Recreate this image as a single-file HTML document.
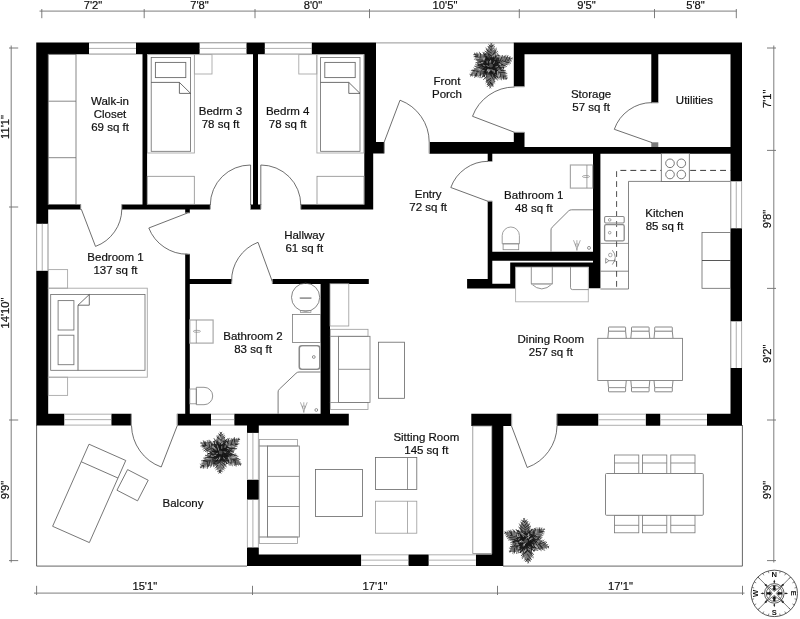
<!DOCTYPE html>
<html lang="en">
<head>
<meta charset="utf-8">
<title>Floor plan</title>
<style>
html,body{margin:0;padding:0;background:#fff;}
body{width:800px;height:619px;overflow:hidden;}
svg{display:block;will-change:transform;}
text{font-family:"Liberation Sans",sans-serif;fill:#111;stroke:#111;stroke-width:0.2px;}
</style>
</head>
<body>
<svg width="800" height="619" viewBox="0 0 800 619">
<rect width="800" height="619" fill="#fff"/>

<line x1="376.00" y1="42.90" x2="514.00" y2="42.90" stroke="#8a8a8a" stroke-width="0.9" />
<path d="M36.6,425 V566.1 H247" fill="none" stroke="#555" stroke-width="0.9" />
<path d="M503,566.1 H742.4 V425" fill="none" stroke="#555" stroke-width="0.9" />
<rect x="651.30" y="142.30" width="7.00" height="4.70" fill="#7a7a7a" />
<path d="M36.25,42.50H48.20V425.50H36.25ZM36.25,42.50H376.00V54.30H36.25ZM364.30,42.50H376.00V153.50H364.30ZM364.30,153.00H373.20V209.00H364.30ZM376.00,142.00H384.00V153.50H376.00ZM142.50,54.00H147.10V209.00H142.50ZM253.00,54.00H258.00V209.00H253.00ZM48.00,204.60H81.00V209.40H48.00ZM121.75,204.60H210.20V209.40H121.75ZM250.30,204.60H260.90V209.40H250.30ZM300.75,204.60H373.20V209.40H300.75ZM185.20,209.00H189.80V213.00H185.20ZM185.20,254.00H189.80V414.00H185.20ZM189.00,279.00H231.50V283.90H189.00ZM272.30,279.00H368.80V283.90H272.30ZM320.60,283.00H330.00V414.00H320.60ZM36.25,413.80H64.50V425.50H36.25ZM111.25,413.80H131.20V425.50H111.25ZM177.30,413.80H211.00V425.50H177.30ZM234.20,413.80H348.80V425.50H234.20ZM247.00,425.00H258.80V432.90H247.00ZM247.00,479.50H258.80V499.80H247.00ZM247.00,547.30H258.80V565.90H247.00ZM247.00,554.40H361.30V565.90H247.00ZM408.30,554.40H428.80V565.90H408.30ZM475.80,554.40H503.30V565.90H475.80ZM491.80,425.00H503.30V565.90H491.80ZM471.30,413.80H511.30V426.00H471.30ZM557.00,413.80H598.50V425.70H557.00ZM645.60,413.80H660.50V425.70H645.60ZM707.00,413.80H742.00V425.70H707.00ZM730.50,42.50H742.00V425.70H730.50ZM513.80,42.50H742.00V54.30H513.80ZM513.80,42.50H524.50V86.50H513.80ZM513.80,132.30H524.50V153.50H513.80ZM429.50,142.00H524.50V153.80H429.50ZM524.00,146.90H742.00V153.80H524.00ZM651.30,54.00H658.30V102.80H651.30ZM487.70,153.00H492.30V161.30H487.70ZM487.70,201.20H492.30V284.00H487.70ZM593.00,153.00H600.40V288.20H593.00ZM588.80,262.50H600.40V288.20H588.80ZM492.00,251.70H593.20V260.70H492.00ZM510.20,262.40H593.00V267.10H510.20ZM510.20,262.40H515.60V288.40H510.20ZM467.10,279.10H492.30V288.40H467.10ZM492.00,283.70H515.60V288.40H492.00Z" fill="#000"/>
<rect x="89.00" y="42.50" width="47.00" height="11.80" fill="#fff" />
<line x1="89.00" y1="42.90" x2="136.00" y2="42.90" stroke="#9a9a9a" stroke-width="0.8" />
<line x1="89.00" y1="48.40" x2="136.00" y2="48.40" stroke="#9a9a9a" stroke-width="0.8" />
<line x1="89.00" y1="53.90" x2="136.00" y2="53.90" stroke="#9a9a9a" stroke-width="0.8" />
<rect x="199.60" y="42.50" width="46.90" height="11.80" fill="#fff" />
<line x1="199.60" y1="42.90" x2="246.50" y2="42.90" stroke="#9a9a9a" stroke-width="0.8" />
<line x1="199.60" y1="48.40" x2="246.50" y2="48.40" stroke="#9a9a9a" stroke-width="0.8" />
<line x1="199.60" y1="53.90" x2="246.50" y2="53.90" stroke="#9a9a9a" stroke-width="0.8" />
<rect x="264.80" y="42.50" width="47.00" height="11.80" fill="#fff" />
<line x1="264.80" y1="42.90" x2="311.80" y2="42.90" stroke="#9a9a9a" stroke-width="0.8" />
<line x1="264.80" y1="48.40" x2="311.80" y2="48.40" stroke="#9a9a9a" stroke-width="0.8" />
<line x1="264.80" y1="53.90" x2="311.80" y2="53.90" stroke="#9a9a9a" stroke-width="0.8" />
<rect x="36.25" y="223.80" width="11.95" height="47.00" fill="#fff" />
<line x1="36.65" y1="223.80" x2="36.65" y2="270.80" stroke="#9a9a9a" stroke-width="0.8" />
<line x1="42.23" y1="223.80" x2="42.23" y2="270.80" stroke="#9a9a9a" stroke-width="0.8" />
<line x1="47.80" y1="223.80" x2="47.80" y2="270.80" stroke="#9a9a9a" stroke-width="0.8" />
<rect x="64.50" y="413.80" width="46.75" height="11.70" fill="#fff" />
<line x1="64.50" y1="414.20" x2="111.25" y2="414.20" stroke="#9a9a9a" stroke-width="0.8" />
<line x1="64.50" y1="419.65" x2="111.25" y2="419.65" stroke="#9a9a9a" stroke-width="0.8" />
<line x1="64.50" y1="425.10" x2="111.25" y2="425.10" stroke="#9a9a9a" stroke-width="0.8" />
<rect x="211.00" y="413.80" width="23.20" height="11.70" fill="#fff" />
<line x1="211.00" y1="414.20" x2="234.20" y2="414.20" stroke="#9a9a9a" stroke-width="0.8" />
<line x1="211.00" y1="419.65" x2="234.20" y2="419.65" stroke="#9a9a9a" stroke-width="0.8" />
<line x1="211.00" y1="425.10" x2="234.20" y2="425.10" stroke="#9a9a9a" stroke-width="0.8" />
<rect x="247.00" y="432.90" width="11.80" height="46.60" fill="#fff" />
<line x1="247.40" y1="432.90" x2="247.40" y2="479.50" stroke="#9a9a9a" stroke-width="0.8" />
<line x1="252.90" y1="432.90" x2="252.90" y2="479.50" stroke="#9a9a9a" stroke-width="0.8" />
<line x1="258.40" y1="432.90" x2="258.40" y2="479.50" stroke="#9a9a9a" stroke-width="0.8" />
<rect x="247.00" y="499.80" width="11.80" height="47.50" fill="#fff" />
<line x1="247.40" y1="499.80" x2="247.40" y2="547.30" stroke="#9a9a9a" stroke-width="0.8" />
<line x1="252.90" y1="499.80" x2="252.90" y2="547.30" stroke="#9a9a9a" stroke-width="0.8" />
<line x1="258.40" y1="499.80" x2="258.40" y2="547.30" stroke="#9a9a9a" stroke-width="0.8" />
<rect x="361.30" y="554.40" width="47.00" height="11.50" fill="#fff" />
<line x1="361.30" y1="554.80" x2="408.30" y2="554.80" stroke="#9a9a9a" stroke-width="0.8" />
<line x1="361.30" y1="560.15" x2="408.30" y2="560.15" stroke="#9a9a9a" stroke-width="0.8" />
<line x1="361.30" y1="565.50" x2="408.30" y2="565.50" stroke="#9a9a9a" stroke-width="0.8" />
<rect x="428.80" y="554.40" width="47.00" height="11.50" fill="#fff" />
<line x1="428.80" y1="554.80" x2="475.80" y2="554.80" stroke="#9a9a9a" stroke-width="0.8" />
<line x1="428.80" y1="560.15" x2="475.80" y2="560.15" stroke="#9a9a9a" stroke-width="0.8" />
<line x1="428.80" y1="565.50" x2="475.80" y2="565.50" stroke="#9a9a9a" stroke-width="0.8" />
<rect x="598.50" y="413.80" width="47.10" height="11.90" fill="#fff" />
<line x1="598.50" y1="414.20" x2="645.60" y2="414.20" stroke="#9a9a9a" stroke-width="0.8" />
<line x1="598.50" y1="419.75" x2="645.60" y2="419.75" stroke="#9a9a9a" stroke-width="0.8" />
<line x1="598.50" y1="425.30" x2="645.60" y2="425.30" stroke="#9a9a9a" stroke-width="0.8" />
<rect x="660.50" y="413.80" width="46.50" height="11.90" fill="#fff" />
<line x1="660.50" y1="414.20" x2="707.00" y2="414.20" stroke="#9a9a9a" stroke-width="0.8" />
<line x1="660.50" y1="419.75" x2="707.00" y2="419.75" stroke="#9a9a9a" stroke-width="0.8" />
<line x1="660.50" y1="425.30" x2="707.00" y2="425.30" stroke="#9a9a9a" stroke-width="0.8" />
<rect x="730.50" y="181.30" width="11.50" height="47.00" fill="#fff" />
<line x1="730.90" y1="181.30" x2="730.90" y2="228.30" stroke="#9a9a9a" stroke-width="0.8" />
<line x1="736.25" y1="181.30" x2="736.25" y2="228.30" stroke="#9a9a9a" stroke-width="0.8" />
<line x1="741.60" y1="181.30" x2="741.60" y2="228.30" stroke="#9a9a9a" stroke-width="0.8" />
<rect x="730.50" y="321.30" width="11.50" height="46.70" fill="#fff" />
<line x1="730.90" y1="321.30" x2="730.90" y2="368.00" stroke="#9a9a9a" stroke-width="0.8" />
<line x1="736.25" y1="321.30" x2="736.25" y2="368.00" stroke="#9a9a9a" stroke-width="0.8" />
<line x1="741.60" y1="321.30" x2="741.60" y2="368.00" stroke="#9a9a9a" stroke-width="0.8" />
<rect x="472.80" y="426.00" width="19.00" height="127.60" fill="#fff" stroke="#8a8a8a" stroke-width="0.8"/>
<rect x="80.20" y="204.30" width="1.00" height="4.90" fill="#9a9a9a" />
<rect x="121.20" y="204.30" width="1.00" height="4.90" fill="#9a9a9a" />
<rect x="209.80" y="204.30" width="1.00" height="4.90" fill="#9a9a9a" />
<rect x="250.00" y="204.30" width="1.00" height="4.90" fill="#9a9a9a" />
<rect x="260.40" y="204.30" width="1.00" height="4.90" fill="#9a9a9a" />
<rect x="300.30" y="204.30" width="1.00" height="4.90" fill="#9a9a9a" />
<rect x="185.20" y="212.40" width="4.60" height="1.00" fill="#9a9a9a" />
<rect x="185.20" y="253.60" width="4.60" height="1.00" fill="#9a9a9a" />
<rect x="231.20" y="279.20" width="1.00" height="4.50" fill="#9a9a9a" />
<rect x="271.80" y="279.20" width="1.00" height="4.50" fill="#9a9a9a" />
<rect x="130.80" y="413.80" width="1.20" height="11.70" fill="#9a9a9a" />
<rect x="176.60" y="413.80" width="1.20" height="11.70" fill="#9a9a9a" />
<rect x="383.80" y="142.00" width="1.20" height="11.50" fill="#9a9a9a" />
<rect x="428.60" y="142.00" width="1.20" height="11.50" fill="#9a9a9a" />
<rect x="513.80" y="86.20" width="10.70" height="1.00" fill="#9a9a9a" />
<rect x="513.80" y="131.80" width="10.70" height="1.00" fill="#9a9a9a" />
<rect x="651.30" y="102.30" width="7.00" height="1.00" fill="#9a9a9a" />
<rect x="487.70" y="161.00" width="4.60" height="1.00" fill="#9a9a9a" />
<rect x="487.70" y="200.60" width="4.60" height="1.00" fill="#9a9a9a" />
<rect x="511.00" y="413.80" width="1.20" height="12.20" fill="#9a9a9a" />
<rect x="556.20" y="413.80" width="1.20" height="11.90" fill="#9a9a9a" />
<path d="M81.30,209.20 L95.50,246.40 A40.16,40.16 0 0 0 121.80,209.20" fill="none" stroke="#4a4a4a" stroke-width="0.8" />
<path d="M187.50,213.00 L148.80,228.00 A41.35,41.35 0 0 0 187.50,254.20" fill="none" stroke="#4a4a4a" stroke-width="0.8" />
<path d="M250.60,205.00 L250.60,165.00 A40.15,40.15 0 0 0 210.30,205.00" fill="none" stroke="#4a4a4a" stroke-width="0.8" />
<path d="M260.80,205.00 L260.80,165.00 A40.00,40.00 0 0 1 300.80,205.00" fill="none" stroke="#4a4a4a" stroke-width="0.8" />
<path d="M272.30,281.50 L258.00,242.30 A41.21,41.21 0 0 0 231.60,281.50" fill="none" stroke="#4a4a4a" stroke-width="0.8" />
<path d="M177.30,425.50 L161.20,467.00 A45.16,45.16 0 0 1 131.50,425.50" fill="none" stroke="#4a4a4a" stroke-width="0.8" />
<path d="M384.20,142.00 L400.00,100.20 A44.84,44.84 0 0 1 429.20,142.00" fill="none" stroke="#4a4a4a" stroke-width="0.8" />
<path d="M514.50,132.30 L472.50,116.30 A45.12,45.12 0 0 1 514.50,87.00" fill="none" stroke="#4a4a4a" stroke-width="0.8" />
<path d="M652.00,142.60 L614.30,129.30 A39.99,39.99 0 0 1 652.00,102.60" fill="none" stroke="#4a4a4a" stroke-width="0.8" />
<path d="M488.00,201.30 L450.80,187.50 A39.84,39.84 0 0 1 488.00,161.30" fill="none" stroke="#4a4a4a" stroke-width="0.8" />
<path d="M511.50,426.00 L527.20,467.50 A44.94,44.94 0 0 0 557.00,426.00" fill="none" stroke="#4a4a4a" stroke-width="0.8" />
<rect x="48.20" y="54.30" width="27.80" height="150.30" fill="none" stroke="#6a6a6a" stroke-width="0.8"/>
<line x1="48.20" y1="101.20" x2="76.00" y2="101.20" stroke="#6a6a6a" stroke-width="0.8" />
<line x1="48.20" y1="157.70" x2="76.00" y2="157.70" stroke="#6a6a6a" stroke-width="0.8" />
<rect x="147.50" y="54.60" width="46.90" height="98.40" fill="none" stroke="#a8a8a8" stroke-width="0.9"/>
<rect x="151.20" y="57.50" width="39.40" height="93.80" fill="none" stroke="#6a6a6a" stroke-width="0.8"/>
<rect x="155.40" y="62.40" width="30.40" height="15.20" fill="none" stroke="#6a6a6a" stroke-width="0.9"/>
<path d="M151.20,82.4 H179.40 V93.4 H190.60 M179.40,82.4 L190.60,93.4" fill="none" stroke="#4a4a4a" stroke-width="0.8" />
<rect x="316.90" y="54.60" width="46.90" height="98.40" fill="none" stroke="#a8a8a8" stroke-width="0.9"/>
<rect x="320.60" y="57.50" width="39.40" height="93.80" fill="none" stroke="#6a6a6a" stroke-width="0.8"/>
<rect x="324.80" y="62.40" width="30.40" height="15.20" fill="none" stroke="#6a6a6a" stroke-width="0.9"/>
<path d="M320.60,82.4 H348.80 V93.4 H360.00 M348.80,82.4 L360.00,93.4" fill="none" stroke="#4a4a4a" stroke-width="0.8" />
<rect x="194.40" y="54.60" width="17.60" height="19.40" fill="none" stroke="#a8a8a8" stroke-width="0.9"/>
<rect x="298.80" y="54.60" width="18.00" height="19.40" fill="none" stroke="#a8a8a8" stroke-width="0.9"/>
<rect x="147.20" y="176.30" width="47.10" height="28.00" fill="none" stroke="#8a8a8a" stroke-width="0.8"/>
<rect x="317.00" y="176.30" width="47.00" height="28.00" fill="none" stroke="#8a8a8a" stroke-width="0.8"/>
<rect x="48.30" y="269.60" width="19.30" height="18.60" fill="none" stroke="#a8a8a8" stroke-width="0.9"/>
<rect x="48.30" y="377.20" width="19.30" height="18.20" fill="none" stroke="#a8a8a8" stroke-width="0.9"/>
<rect x="48.30" y="288.20" width="99.00" height="89.00" fill="none" stroke="#a8a8a8" stroke-width="0.9"/>
<rect x="50.70" y="294.50" width="94.30" height="75.80" fill="none" stroke="#6a6a6a" stroke-width="0.8"/>
<rect x="58.10" y="300.60" width="15.80" height="29.40" fill="none" stroke="#777" stroke-width="0.9"/>
<rect x="58.10" y="335.20" width="15.80" height="29.50" fill="none" stroke="#777" stroke-width="0.9"/>
<path d="M78,370.3 V305.2 H89.3 V294.5 M78,305.2 L89.3,294.5" fill="none" stroke="#4a4a4a" stroke-width="0.8" />
<rect x="189.80" y="320.00" width="23.30" height="23.10" fill="none" stroke="#a8a8a8" stroke-width="1.2"/>
<line x1="196.30" y1="320.00" x2="196.30" y2="343.10" stroke="#8a8a8a" stroke-width="0.8" />
<ellipse cx="196.9" cy="331.3" rx="3.6" ry="1" fill="none" stroke="#888" stroke-width="0.7"/>
<rect x="189.80" y="389.00" width="6.50" height="14.80" fill="none" stroke="#8a8a8a" stroke-width="0.8"/>
<path d="M196.3,387.3 H204 A8.7,8.7 0 0 1 204,404.7 H196.3 Z" fill="none" stroke="#777" stroke-width="0.8" />
<circle cx="305.60" cy="297.30" r="14.10" fill="none" stroke="#666" stroke-width="0.8"/>
<line x1="300.30" y1="298.10" x2="310.90" y2="298.10" stroke="#999" stroke-width="1.6" stroke-linecap="round"/>
<rect x="300.40" y="310.50" width="10.50" height="2.10" fill="none" stroke="#888" stroke-width="0.7"/>
<rect x="292.50" y="314.40" width="28.10" height="28.10" fill="none" stroke="#7a7a7a" stroke-width="0.8"/>
<rect x="299.30" y="345.70" width="20.50" height="23.60" fill="none" stroke="#8a8a8a" stroke-width="1.6" rx="2.5"/>
<rect x="300.60" y="347.00" width="17.90" height="21.00" fill="none" stroke="#fff" stroke-width="0.5" rx="2"/>
<circle cx="313.80" cy="357.00" r="1.40" fill="none" stroke="#666" stroke-width="0.7"/>
<path d="M278.1,413.8 V392 Q278.1,390.3 279.3,389.2 L296,373.3 Q297.4,372 299,372 H320.6" fill="none" stroke="#6a6a6a" stroke-width="0.9" />
<path d="M300.40000000000003,402.3 L302.90000000000003,408.7 M307.2,402.3 L304.7,408.7 M303.8,402.3 V405.5 M302.5,406.0 L303.8,412.5 L305.1,406.0 Z" fill="none" stroke="#777" stroke-width="0.6" />
<circle cx="316.30" cy="410.00" r="1.40" fill="none" stroke="#666" stroke-width="0.7"/>
<rect x="570.40" y="165.00" width="22.20" height="23.10" fill="none" stroke="#a8a8a8" stroke-width="1.2"/>
<line x1="586.90" y1="165.00" x2="586.90" y2="188.10" stroke="#8a8a8a" stroke-width="0.8" />
<ellipse cx="586" cy="176.5" rx="3.6" ry="1" fill="none" stroke="#888" stroke-width="0.7"/>
<path d="M551,251.7 V230 Q551,228.3 552.2,227.2 L568.5,211 Q569.8,209.8 571.5,209.8 H593" fill="none" stroke="#707070" stroke-width="0.9" />
<path d="M573.5,240.20000000000002 L576.0,246.6 M580.3,240.20000000000002 L577.8,246.6 M576.9,240.20000000000002 V243.4 M575.6,243.9 L576.9,250.4 L578.1999999999999,243.9 Z" fill="none" stroke="#777" stroke-width="0.6" />
<circle cx="589.00" cy="247.90" r="1.50" fill="none" stroke="#666" stroke-width="0.7"/>
<path d="M502.2,243.8 V235.6 A8.6,8.6 0 0 1 519.4,235.6 V243.8 Z" fill="none" stroke="#888" stroke-width="0.8" />
<rect x="503.10" y="243.80" width="15.60" height="5.90" fill="none" stroke="#888" stroke-width="0.8"/>
<rect x="515.60" y="267.10" width="72.70" height="34.70" fill="none" stroke="#b0b0b0" stroke-width="0.9"/>
<path d="M531.3,267.1 V283.8 H552.3 V267.1 M531.3,283.8 Q541.8,294 552.3,283.8" fill="none" stroke="#777" stroke-width="0.8" />
<line x1="531.30" y1="284.40" x2="552.30" y2="284.40" stroke="#bbb" stroke-width="1" />
<path d="M570.5,267.1 V287.6 Q570.5,289.6 572.5,289.6 H588.5" fill="none" stroke="#777" stroke-width="0.8" />
<path d="M600.4,289 H628.5 V181.4 H730.5" fill="none" stroke="#666" stroke-width="0.8" />
<line x1="600.40" y1="243.40" x2="628.50" y2="243.40" stroke="#777" stroke-width="0.8" />
<line x1="600.40" y1="271.20" x2="628.50" y2="271.20" stroke="#666" stroke-width="0.8" />
<path d="M616.6,171.2 V289" fill="none" stroke="#3a3a3a" stroke-width="0.9" stroke-dasharray="5.8 4.18"/>
<path d="M620.4,170.4 H730.5" fill="none" stroke="#3a3a3a" stroke-width="1" stroke-dasharray="5.9 4.07"/>
<rect x="661.30" y="153.50" width="28.00" height="27.90" fill="#fff" stroke="#666" stroke-width="0.8"/>
<circle cx="670.00" cy="163.30" r="4.30" fill="none" stroke="#555" stroke-width="0.8"/>
<circle cx="670.00" cy="174.50" r="4.30" fill="none" stroke="#555" stroke-width="0.8"/>
<circle cx="681.30" cy="163.30" r="4.30" fill="none" stroke="#555" stroke-width="0.8"/>
<circle cx="681.30" cy="174.50" r="4.30" fill="none" stroke="#555" stroke-width="0.8"/>
<rect x="604.60" y="216.50" width="19.60" height="6.50" fill="none" stroke="#8a8a8a" stroke-width="1.1" rx="1.2"/>
<rect x="604.60" y="224.70" width="19.60" height="16.20" fill="none" stroke="#8a8a8a" stroke-width="1.3" rx="1.5"/>
<circle cx="609.70" cy="219.90" r="1.30" fill="none" stroke="#666" stroke-width="0.6"/>
<circle cx="609.70" cy="232.70" r="1.30" fill="none" stroke="#666" stroke-width="0.6"/>
<path d="M605.7,258.3 V263.2 L608.9,260.7 Z M608.9,260.7 H615 M615,259.4 V262 M612.3,250.2 Q618.2,257.3 612.3,264.6" fill="none" stroke="#666" stroke-width="0.7" />
<circle cx="610.30" cy="255.00" r="1.80" fill="none" stroke="#777" stroke-width="0.6"/>
<rect x="702.00" y="232.50" width="28.50" height="55.80" fill="none" stroke="#666" stroke-width="0.8"/>
<line x1="702.00" y1="260.50" x2="730.50" y2="260.50" stroke="#444" stroke-width="0.9" />
<rect x="330.00" y="283.70" width="18.80" height="42.30" fill="none" stroke="#999" stroke-width="0.8"/>
<rect x="330.30" y="329.30" width="37.70" height="7.00" fill="none" stroke="#999" stroke-width="0.8"/>
<rect x="330.30" y="402.50" width="37.70" height="7.00" fill="none" stroke="#999" stroke-width="0.8"/>
<rect x="330.30" y="336.30" width="8.30" height="66.20" fill="none" stroke="#999" stroke-width="0.8"/>
<rect x="338.60" y="336.30" width="31.40" height="66.20" fill="none" stroke="#777" stroke-width="0.8"/>
<line x1="338.60" y1="369.30" x2="370.00" y2="369.30" stroke="#777" stroke-width="0.8" />
<rect x="378.50" y="342.20" width="26.00" height="56.10" fill="none" stroke="#666" stroke-width="0.8"/>
<path d="M607.80,338.30 L608.50,331.20 V327.60 Q608.50,327.00 609.10,327.00 H625.00 Q625.60,327.00 625.60,327.60 V331.20 L626.30,338.30" fill="none" stroke="#6a6a6a" stroke-width="0.8" />
<line x1="608.50" y1="331.20" x2="625.60" y2="331.20" stroke="#888" stroke-width="1.1" />
<path d="M607.80,380.50 L608.50,387.60 V391.20 Q608.50,391.80 609.10,391.80 H625.00 Q625.60,391.80 625.60,391.20 V387.60 L626.30,380.50" fill="none" stroke="#6a6a6a" stroke-width="0.8" />
<line x1="608.50" y1="387.60" x2="625.60" y2="387.60" stroke="#999" stroke-width="1.1" />
<path d="M630.80,338.30 L631.50,331.20 V327.60 Q631.50,327.00 632.10,327.00 H648.50 Q649.10,327.00 649.10,327.60 V331.20 L649.80,338.30" fill="none" stroke="#6a6a6a" stroke-width="0.8" />
<line x1="631.50" y1="331.20" x2="649.10" y2="331.20" stroke="#888" stroke-width="1.1" />
<path d="M630.80,380.50 L631.50,387.60 V391.20 Q631.50,391.80 632.10,391.80 H648.50 Q649.10,391.80 649.10,391.20 V387.60 L649.80,380.50" fill="none" stroke="#6a6a6a" stroke-width="0.8" />
<line x1="631.50" y1="387.60" x2="649.10" y2="387.60" stroke="#999" stroke-width="1.1" />
<path d="M654.00,338.30 L654.70,331.20 V327.60 Q654.70,327.00 655.30,327.00 H671.70 Q672.30,327.00 672.30,327.60 V331.20 L673.00,338.30" fill="none" stroke="#6a6a6a" stroke-width="0.8" />
<line x1="654.70" y1="331.20" x2="672.30" y2="331.20" stroke="#888" stroke-width="1.1" />
<path d="M654.00,380.50 L654.70,387.60 V391.20 Q654.70,391.80 655.30,391.80 H671.70 Q672.30,391.80 672.30,391.20 V387.60 L673.00,380.50" fill="none" stroke="#6a6a6a" stroke-width="0.8" />
<line x1="654.70" y1="387.60" x2="672.30" y2="387.60" stroke="#999" stroke-width="1.1" />
<rect x="597.80" y="338.30" width="84.70" height="42.20" fill="#fff" stroke="#707070" stroke-width="0.8"/>
<rect x="614.50" y="455.00" width="24.30" height="18.50" fill="none" stroke="#777" stroke-width="0.8"/>
<rect x="614.50" y="515.30" width="24.30" height="17.50" fill="none" stroke="#777" stroke-width="0.8"/>
<line x1="614.50" y1="525.30" x2="638.80" y2="525.30" stroke="#777" stroke-width="0.8" />
<line x1="614.50" y1="463.00" x2="638.80" y2="463.00" stroke="#777" stroke-width="0.8" />
<rect x="642.50" y="455.00" width="24.30" height="18.50" fill="none" stroke="#777" stroke-width="0.8"/>
<rect x="642.50" y="515.30" width="24.30" height="17.50" fill="none" stroke="#777" stroke-width="0.8"/>
<line x1="642.50" y1="525.30" x2="666.80" y2="525.30" stroke="#777" stroke-width="0.8" />
<line x1="642.50" y1="463.00" x2="666.80" y2="463.00" stroke="#777" stroke-width="0.8" />
<rect x="670.80" y="455.00" width="24.20" height="18.50" fill="none" stroke="#777" stroke-width="0.8"/>
<rect x="670.80" y="515.30" width="24.20" height="17.50" fill="none" stroke="#777" stroke-width="0.8"/>
<line x1="670.80" y1="525.30" x2="695.00" y2="525.30" stroke="#777" stroke-width="0.8" />
<line x1="670.80" y1="463.00" x2="695.00" y2="463.00" stroke="#777" stroke-width="0.8" />
<rect x="605.50" y="473.50" width="97.80" height="41.80" fill="#fff" stroke="#777" stroke-width="0.9" rx="1"/>
<rect x="259.30" y="439.50" width="38.20" height="6.50" fill="none" stroke="#999" stroke-width="0.8"/>
<rect x="259.30" y="537.00" width="38.20" height="6.50" fill="none" stroke="#999" stroke-width="0.8"/>
<rect x="259.30" y="446.00" width="8.20" height="91.00" fill="none" stroke="#999" stroke-width="0.8"/>
<rect x="267.50" y="446.00" width="31.80" height="91.00" fill="none" stroke="#777" stroke-width="0.8"/>
<line x1="267.50" y1="476.40" x2="299.30" y2="476.40" stroke="#777" stroke-width="0.8" />
<line x1="267.50" y1="506.50" x2="299.30" y2="506.50" stroke="#777" stroke-width="0.8" />
<rect x="315.50" y="469.50" width="47.00" height="47.00" fill="none" stroke="#666" stroke-width="0.8"/>
<rect x="375.50" y="457.50" width="41.30" height="32.00" fill="none" stroke="#666" stroke-width="0.8"/>
<line x1="407.50" y1="457.50" x2="407.50" y2="489.50" stroke="#777" stroke-width="0.8" />
<rect x="375.50" y="501.20" width="41.30" height="32.00" fill="none" stroke="#999" stroke-width="0.8"/>
<line x1="407.50" y1="501.20" x2="407.50" y2="533.20" stroke="#999" stroke-width="0.8" />
<g transform="translate(89,444.2) rotate(23.9)">
<rect x="0.00" y="0.00" width="40.20" height="89.80" fill="none" stroke="#666" stroke-width="0.8"/>
<line x1="0.00" y1="19.20" x2="40.20" y2="19.20" stroke="#666" stroke-width="0.8" />
</g>
<g transform="translate(127.6,469.6) rotate(27.3)">
<rect x="0.00" y="0.00" width="23.20" height="23.20" fill="none" stroke="#666" stroke-width="0.8"/>
</g>
<g transform="translate(491,65.6)" fill="none" stroke-linecap="round">
<path d="M0.0,0.0L4.1,-0.9L6.8,-0.2L8.9,1.2L10.9,2.9L12.8,4.5L14.1,6.9L15.1,9.7L15.6,13.1L12.2,13.2L9.3,12.7L6.7,11.8L4.7,10.2L2.8,8.6L1.0,6.8L-0.2,4.2ZM0.0,0.0L3.3,2.9L4.4,5.7L4.5,8.5L4.4,11.3L4.3,14.1L3.2,16.9L1.6,19.6L-0.8,22.3L-3.0,19.4L-4.4,16.6L-5.3,13.8L-5.2,11.0L-5.1,8.2L-4.8,5.4L-3.5,2.7ZM0.0,0.0L-1.1,4.2L-3.2,6.5L-5.7,7.9L-8.2,9.1L-10.8,10.3L-13.8,10.6L-17.0,10.4L-20.5,9.6L-18.9,6.3L-17.0,3.7L-14.8,1.6L-12.3,0.4L-9.7,-0.8L-7.1,-1.8L-4.0,-1.8ZM0.0,0.0L-4.0,1.3L-6.8,0.8L-9.0,-0.4L-11.1,-1.9L-13.2,-3.4L-14.7,-5.6L-15.9,-8.3L-16.7,-11.7L-13.3,-12.1L-10.3,-11.9L-7.7,-11.2L-5.6,-9.8L-3.5,-8.3L-1.5,-6.7L-0.2,-4.2ZM0.0,0.0L-3.3,-2.8L-4.5,-5.7L-4.7,-8.4L-4.6,-11.2L-4.5,-14.0L-3.5,-16.8L-2.0,-19.6L0.4,-22.3L2.6,-19.5L4.1,-16.7L5.0,-13.9L5.0,-11.1L4.9,-8.3L4.7,-5.5L3.4,-2.7ZM0.0,0.0L1.5,-4.1L3.8,-6.2L6.3,-7.3L9.0,-8.2L11.6,-9.1L14.6,-9.0L17.7,-8.5L21.1,-7.3L19.2,-4.2L17.1,-1.8L14.7,-0.0L12.1,0.9L9.5,1.8L6.8,2.5L3.7,2.3ZM-7,0A7,7 0 0 1 7,0A7,7 0 0 1 -7,0Z" fill="#787878" stroke="none"/>
<circle r="8.5" fill="#4c4c4c" stroke="none"/>
<path d="M3.2,2.7L9.5,0.5M2.8,2.4L2.1,9.3M6.3,5.3L12.6,4.3M4.4,3.7L6.4,11.7M10.5,8.8L15.9,7.9M10.1,8.5L10.6,14.3M-0.2,4.6L5.7,7.9M-0.1,2.7L-6.3,7.5M-0.3,7.4L4.5,12.8M-0.3,9.9L-5.4,12.5M-0.5,13.4L3.9,17.7M-0.5,13.0L-5.1,17.4M-0.8,21.8L-0.2,22.5M-0.8,22.1L-1.3,22.5M-2.3,1.1L-4.0,8.7M-2.3,1.1L-9.3,-2.6M-5.5,2.6L-8.0,11.1M-6.0,2.8L-13.6,-1.0M-11.6,5.4L-12.9,11.6M-12.3,5.7L-17.2,2.4M-18.3,8.5L-18.6,10.6M-17.2,8.0L-20.0,7.4M-2.0,-1.4L-9.4,0.2M-2.2,-1.6L-3.0,-9.0M-7.3,-5.1L-13.9,-1.8M-6.1,-4.2L-6.5,-12.5M-11.9,-8.4L-16.7,-6.3M-8.4,-5.9L-11.7,-13.5M0.1,-3.8L-7.0,-7.8M0.0,-2.5L7.2,-7.6M0.2,-8.6L-6.5,-12.8M0.1,-7.9L6.9,-12.5M0.2,-9.2L-5.0,-17.7M0.2,-12.9L5.6,-17.5M0.4,-21.5L-0.2,-22.5M0.4,-21.8L1.0,-22.5M3.5,-1.2L4.9,-9.5M2.4,-0.8L9.7,4.4M8.7,-3.0L10.0,-9.9M5.5,-1.9L14.0,1.7M11.2,-3.8L15.0,-10.4M13.4,-4.6L18.2,-1.0M20.7,-7.1L21.1,-7.9M20.5,-7.1L21.5,-6.7" stroke="#5a5a5a" stroke-width="0.8"/>
<path d="M1.9,1.6L6.8,-1.3M1.9,1.6L-0.1,6.9M1.9,1.6L8.6,-1.0M1.9,1.6L0.5,8.7M5.2,4.3L10.2,2.2M5.1,4.3L3.9,9.7M4.2,3.6L12.6,1.8M1.9,1.6L3.9,12.2M5.7,4.8L14.3,4.8M4.5,3.8L7.2,13.2M8.4,7.1L14.9,6.6M9.6,8.1L9.1,13.6M12.5,10.5L16.0,10.3M12.1,10.2L12.9,14.0M15.2,12.7L16.4,12.4M15.1,12.7L15.0,14.0M-0.1,2.5L5.5,4.6M-0.1,2.5L-5.8,4.2M-0.1,2.6L6.3,6.3M-0.1,2.5L-6.7,5.8M-0.1,3.2L6.4,9.6M-0.1,2.5L-7.0,9.1M-0.2,6.6L6.4,11.2M-0.1,3.7L-7.1,10.8M-0.2,5.1L6.4,14.5M-0.2,6.2L-7.4,14.0M-0.3,9.4L3.9,16.1M-0.4,12.8L-5.0,15.8M-0.6,16.8L2.4,19.3M-0.5,14.8L-3.7,19.1M-0.6,16.7L2.0,20.9M-0.6,17.8L-3.4,20.8M-2.3,1.1L-1.3,7.1M-2.3,1.1L-6.3,-3.5M-2.3,1.1L-3.1,6.9M-2.6,1.2L-7.3,-2.1M-4.6,2.1L-5.9,8.2M-3.2,1.5L-10.1,-0.8M-3.6,1.7L-6.6,10.5M-4.0,1.9L-12.3,-1.7M-4.3,2.0L-9.2,12.2M-4.1,1.9L-15.3,-0.8M-9.8,4.6L-11.0,12.1M-6.9,3.2L-16.3,0.6M-14.4,6.7L-14.9,11.1M-14.2,6.6L-18.1,4.3M-14.1,6.6L-16.3,11.8M-12.7,5.9L-19.5,4.8M-19.6,9.1L-20.3,10.5M-20.1,9.4L-21.1,8.8M-2.0,-1.4L-7.0,2.4M-2.0,-1.4L-0.1,-7.4M-2.7,-1.9L-8.0,0.9M-2.0,-1.4L-1.8,-7.8M-2.9,-2.0L-10.4,-1.3M-3.7,-2.6L-4.7,-9.3M-2.0,-1.4L-12.7,-0.8M-3.4,-2.4L-5.1,-11.6M-7.0,-4.9L-15.2,-2.8M-4.6,-3.2L-7.9,-13.3M-7.8,-5.5L-15.1,-5.8M-10.8,-7.6L-10.6,-12.2M-13.4,-9.4L-16.9,-8.9M-13.9,-9.7L-14.1,-12.8M-16.3,-11.4L-17.3,-11.0M-15.6,-10.9L-16.3,-12.5M0.0,-2.5L-6.4,-4.5M0.0,-2.5L6.5,-4.3M0.0,-2.7L-6.3,-6.2M0.0,-2.5L6.5,-6.0M0.1,-3.7L-5.8,-9.5M0.1,-4.7L6.2,-9.3M0.0,-2.5L-6.5,-11.1M0.1,-6.0L6.9,-10.9M0.2,-9.8L-6.0,-14.4M0.2,-9.0L6.5,-14.2M0.2,-12.5L-4.8,-16.0M0.2,-8.7L5.3,-15.8M0.3,-14.8L-3.0,-19.3M0.3,-16.4L3.7,-19.2M0.3,-18.5L-2.2,-20.9M0.3,-19.1L3.0,-20.8M2.4,-0.8L2.1,-7.5M2.4,-0.8L6.3,4.6M2.4,-0.8L4.1,-6.8M3.0,-1.0L7.4,2.8M3.3,-1.1L6.9,-8.6M2.4,-0.8L10.8,2.5M6.7,-2.3L8.3,-9.7M6.7,-2.3L12.5,2.6M8.3,-2.8L11.6,-10.1M7.3,-2.5L15.4,0.8M10.5,-3.6L13.5,-9.6M11.4,-3.9L16.6,-0.8M14.3,-4.9L16.9,-10.0M12.4,-4.3L19.5,-2.5M18.2,-6.3L19.0,-8.9M16.2,-5.6L20.5,-4.6M1.0,2.3L6.1,2.3M1.0,2.3L-2.4,6.1M1.0,2.3L6.6,3.9M1.1,2.6L-1.5,7.5M1.7,3.9L7.9,5.2M1.9,4.2L-1.5,9.3M2.1,4.6L7.5,7.2M2.4,5.4L0.4,10.4M3.0,6.8L7.1,9.2M3.5,7.8L2.1,11.4M4.9,10.9L6.0,11.6M4.9,11.0L4.6,12.2M-1.4,2.1L2.0,6.8M-1.4,2.1L-7.0,0.8M-1.5,2.3L0.6,7.9M-1.4,2.1L-7.5,2.5M-2.2,3.3L-0.3,9.3M-2.6,3.9L-8.4,3.9M-3.6,5.4L-2.4,10.0M-3.9,5.9L-8.2,6.1M-4.9,7.5L-3.5,11.2M-4.4,6.7L-8.9,7.6M-6.6,10.0L-6.5,11.3M-6.8,10.3L-7.8,10.4M-2.5,-0.2L-5.0,5.3M-2.5,-0.2L-4.0,-6.1M-3.7,-0.3L-6.6,3.4M-3.6,-0.3L-5.9,-4.5M-2.5,-0.2L-8.3,4.0M-3.5,-0.3L-7.5,-5.4M-6.7,-0.6L-9.9,2.9M-6.0,-0.5L-9.3,-4.5M-9.2,-0.8L-11.5,1.6M-7.7,-0.7L-11.0,-3.6M-11.9,-1.0L-13.0,-0.3M-12.0,-1.0L-12.9,-1.9M-1.1,-2.2L-6.8,-1.7M-1.1,-2.2L2.6,-6.5M-1.1,-2.2L-7.2,-3.4M-1.1,-2.2L1.5,-7.8M-1.3,-2.5L-8.0,-4.8M-1.9,-3.7L0.8,-9.3M-2.7,-5.4L-7.8,-6.8M-3.1,-6.0L-1.0,-10.3M-3.6,-7.0L-7.8,-8.7M-3.6,-7.1L-2.4,-11.5M-5.6,-11.0L-6.6,-11.2M-5.4,-10.6L-5.2,-11.9M1.5,-2.0L-1.4,-6.6M1.5,-2.0L6.7,-0.7M1.5,-2.0L-0.3,-7.9M1.5,-2.0L7.6,-2.2M2.0,-2.7L0.3,-9.6M1.8,-2.5L9.0,-3.3M2.7,-3.7L2.5,-10.1M3.5,-4.9L8.8,-5.5M5.4,-7.4L4.3,-10.9M5.4,-7.4L9.0,-7.4M7.2,-9.9L7.1,-10.9M7.1,-9.8L8.2,-10.1M2.5,0.5L5.4,-4.3M2.5,0.5L3.5,5.9M2.5,0.5L7.0,-3.4M2.5,0.5L5.3,5.7M4.3,0.8L8.6,-3.0M3.2,0.6L7.0,5.9M6.5,1.2L10.1,-1.7M5.2,1.0L8.8,5.2M7.0,1.3L11.7,-1.1M8.0,1.5L10.5,5.2M11.9,2.2L12.9,1.7M12.1,2.2L12.7,3.0" stroke="#161616" stroke-width="0.75"/>
<path d="M7.4,5.1L9.2,4.8M6.5,5.7L6.5,7.5M4.8,1.3L6.6,1.0M8.6,8.5L8.6,10.3M6.4,8.6L6.4,10.4M7.4,9.5L7.4,11.3M3.3,5.0L3.3,6.8M9.7,11.8L9.7,13.6M6.2,3.5L8.0,3.2M14.1,9.3L15.9,9.0M-3.4,19.9L-4.8,21.0M1.7,4.5L3.0,5.7M1.2,15.1L2.5,16.3M-2.5,3.7L-3.9,4.8M-2.4,9.5L-3.8,10.6M0.5,4.3L1.9,5.5M2.9,14.4L4.2,15.6M-1.5,5.6L-2.9,6.7M-3.9,18.3L-5.3,19.4M-0.2,4.1L-1.6,5.2M-14.4,6.7L-16.0,5.9M-12.3,8.1L-12.7,9.9M-1.8,3.9L-2.3,5.6M-2.6,0.8L-4.2,0.0M-10.6,4.4L-12.2,3.6M-3.3,4.0L-3.8,5.7M-6.2,0.3L-7.8,-0.5M-19.5,5.8L-21.1,5.0M-2.1,4.4L-2.6,6.1M-17.5,8.4L-17.9,10.2M-12.4,-7.2L-14.1,-6.7M-7.7,-5.5L-7.9,-7.3M-6.9,-5.7L-7.0,-7.5M-1.0,-2.4L-1.2,-4.2M-14.0,-7.1L-15.7,-6.6M-6.6,-6.7L-6.8,-8.5M-8.2,-3.1L-9.9,-2.7M-3.8,-2.7L-3.9,-4.5M-0.3,-3.5L-0.4,-5.3M-11.3,-9.7L-11.5,-11.5M1.2,-17.5L2.6,-18.6M0.9,-9.3L2.3,-10.4M3.6,-11.0L5.0,-12.1M-1.4,-16.5L-2.8,-17.7M2.0,-18.4L3.4,-19.5M2.5,-16.0L3.9,-17.1M2.9,-9.3L4.3,-10.4M1.7,-17.8L3.1,-18.9M2.1,-15.8L3.5,-16.9M1.7,-9.3L3.1,-10.4M2.7,-2.1L3.4,-3.8M8.8,-6.6L9.4,-8.3M8.3,-1.8L9.8,-0.9M11.9,-6.1L12.5,-7.8M18.3,-5.1L19.9,-4.2M8.0,-1.6L9.5,-0.6M11.7,-3.8L13.2,-2.8M9.7,0.4L11.2,1.3M13.3,-3.1L14.8,-2.2M15.9,-1.9L17.5,-1.0" stroke="#d0d0d0" stroke-width="0.6"/>
</g>
<g transform="translate(220.6,452.4)" fill="none" stroke-linecap="round">
<path d="M0.0,0.0L4.2,-1.4L7.4,-0.9L10.0,0.4L12.4,1.9L14.9,3.4L16.9,5.7L18.6,8.5L20.0,12.0L16.3,12.5L13.0,12.3L10.0,11.6L7.5,10.1L5.0,8.6L2.6,6.9L0.8,4.4ZM0.0,0.0L3.3,2.7L4.4,5.3L4.5,7.9L4.4,10.5L4.3,13.1L3.3,15.6L1.7,18.1L-0.7,20.6L-2.9,18.0L-4.3,15.4L-5.2,12.7L-5.2,10.2L-5.1,7.6L-4.8,5.0L-3.4,2.5ZM0.0,0.0L-0.4,4.5L-2.2,7.4L-4.5,9.4L-7.0,11.3L-9.5,13.1L-12.5,14.2L-15.9,14.9L-19.8,14.9L-18.7,11.2L-17.1,8.1L-15.2,5.5L-12.8,3.6L-10.3,1.7L-7.7,0.1L-4.5,-0.8ZM0.0,0.0L-3.9,1.8L-6.9,1.7L-9.5,0.7L-12.0,-0.5L-14.4,-1.7L-16.4,-3.8L-18.2,-6.3L-19.7,-9.6L-16.2,-10.5L-13.1,-10.6L-10.2,-10.3L-7.7,-9.1L-5.3,-7.9L-2.9,-6.5L-1.0,-4.2ZM0.0,0.0L-3.3,-2.5L-4.5,-5.1L-4.7,-7.5L-4.6,-10.0L-4.6,-12.5L-3.5,-15.0L-2.0,-17.4L0.3,-19.9L2.6,-17.4L4.1,-14.8L5.0,-12.3L5.0,-9.9L4.9,-7.4L4.7,-4.9L3.4,-2.4ZM0.0,0.0L0.3,-4.4L1.9,-7.1L4.1,-8.9L6.4,-10.6L8.7,-12.2L11.6,-13.1L14.8,-13.6L18.4,-13.4L17.5,-9.9L16.1,-7.0L14.3,-4.5L12.0,-2.8L9.7,-1.1L7.3,0.4L4.3,1.0ZM-7,0A7,7 0 0 1 7,0A7,7 0 0 1 -7,0Z" fill="#787878" stroke="none"/>
<circle r="8.5" fill="#4c4c4c" stroke="none"/>
<path d="M3.7,2.2L9.8,-1.8M2.2,1.3L3.1,9.5M8.2,4.9L13.1,2.2M5.4,3.3L8.0,10.5M10.3,6.2L17.5,4.1M10.6,6.4L11.9,13.5M16.0,9.6L19.8,9.7M16.6,10.0L17.8,12.9M-0.2,4.3L6.3,7.9M-0.1,3.4L-6.9,7.5M-0.2,5.8L5.2,12.8M-0.2,4.6L-6.1,12.4M-0.5,13.0L3.6,17.7M-0.5,14.3L-4.8,17.4M-2.9,2.2L-1.5,10.5M-2.8,2.1L-10.5,-1.5M-3.7,2.8L-6.3,12.0M-3.8,2.8L-13.3,2.7M-10.3,7.7L-10.2,14.9M-10.6,8.0L-17.1,5.7M-14.4,10.8L-15.6,15.5M-15.7,11.8L-19.2,10.8M-2.2,-1.1L-9.3,1.8M-3.3,-1.6L-4.3,-8.5M-7.7,-3.7L-13.6,-0.5M-6.2,-3.0L-8.8,-10.4M-12.4,-6.0L-17.7,-3.2M-10.4,-5.1L-13.4,-12.0M-19.2,-9.4L-20.1,-9.2M-19.3,-9.4L-19.6,-10.2M0.0,-2.5L-6.4,-7.5M0.0,-2.5L6.7,-7.3M0.1,-5.4L-4.7,-12.2M0.2,-8.6L5.2,-12.1M0.2,-11.9L-3.5,-16.9M0.2,-13.9L4.1,-16.8M2.0,-1.5L1.6,-10.3M2.0,-1.5L10.3,1.7M4.4,-3.2L5.8,-12.5M3.2,-2.3L13.7,-1.7M10.3,-7.5L10.7,-13.9M10.7,-7.8L16.5,-5.8M15.3,-11.1L16.3,-14.1M15.4,-11.2L18.4,-11.2" stroke="#5a5a5a" stroke-width="0.8"/>
<path d="M2.1,1.3L6.4,-2.2M2.1,1.3L1.1,6.6M2.9,1.8L7.7,-1.3M2.1,1.3L2.5,7.4M3.7,2.2L11.3,-1.1M4.4,2.6L4.4,10.4M5.4,3.3L12.1,0.6M6.0,3.6L6.3,10.4M5.1,3.1L15.2,1.7M7.0,4.2L8.6,12.7M6.2,3.7L16.3,3.0M10.4,6.3L10.3,12.9M11.9,7.2L18.1,6.2M13.2,7.9L14.0,13.1M13.4,8.0L19.4,7.2M14.8,8.9L15.5,13.7M19.2,11.5L20.6,11.5M19.6,11.8L19.8,12.8M-0.1,2.5L5.1,4.6M-0.1,2.5L-5.4,4.2M-0.1,3.4L5.5,6.3M-0.1,2.5L-5.9,5.9M-0.2,6.4L5.4,9.5M-0.2,5.9L-6.0,9.1M-0.1,2.5L6.3,11.2M-0.2,5.8L-7.1,10.7M-0.2,6.0L5.6,14.5M-0.3,8.2L-6.6,14.0M-0.4,11.0L4.3,16.1M-0.3,10.0L-5.4,15.7M-0.6,17.7L1.7,19.2M-0.6,17.6L-3.0,19.1M-0.7,19.4L0.3,20.8M-0.7,19.2L-1.7,20.8M-2.0,1.5L-0.1,7.1M-2.0,1.5L-6.8,-1.9M-2.0,1.5L-1.2,8.2M-2.0,1.5L-8.2,-1.1M-2.3,1.8L-4.3,9.4M-3.3,2.5L-10.2,1.6M-4.7,3.6L-4.7,11.5M-2.2,1.7L-12.4,1.3M-6.5,4.9L-7.0,13.8M-6.8,5.2L-15.2,2.9M-8.3,6.2L-9.0,13.7M-7.0,5.3L-15.7,4.9M-10.3,7.8L-12.4,14.5M-12.6,9.5L-17.4,7.9M-13.3,10.0L-13.3,16.0M-11.2,8.5L-19.0,8.4M-17.1,12.9L-17.3,15.9M-17.6,13.2L-20.1,12.3M-19.6,14.7L-19.7,15.5M-19.6,14.8L-20.3,14.6M-2.2,-1.1L-6.1,2.7M-2.2,-1.1L-1.7,-6.5M-2.2,-1.1L-8.0,2.7M-2.2,-1.1L-2.8,-8.0M-3.8,-1.8L-10.4,0.4M-5.3,-2.6L-6.1,-8.5M-3.1,-1.5L-12.7,1.4M-2.2,-1.1L-6.7,-10.9M-8.8,-4.3L-15.1,-1.0M-8.2,-4.0L-10.1,-11.3M-10.9,-5.3L-16.7,-1.6M-10.8,-5.3L-11.5,-12.2M-13.8,-6.7L-18.4,-5.4M-15.1,-7.4L-15.6,-11.1M-15.0,-7.3L-19.7,-6.4M-15.4,-7.5L-17.2,-11.6M0.0,-2.5L-6.0,-4.4M0.0,-2.5L6.1,-4.2M0.0,-2.5L-6.4,-5.9M0.0,-2.5L6.6,-5.7M0.1,-4.1L-6.5,-9.1M0.1,-4.9L6.8,-8.9M0.1,-5.8L-5.5,-10.7M0.1,-6.9L5.8,-10.5M0.1,-4.2L-6.5,-13.8M0.1,-8.2L7.0,-13.6M0.2,-12.2L-3.8,-15.4M0.2,-11.9L4.3,-15.2M0.3,-16.6L-2.0,-18.5M0.3,-15.8L2.6,-18.4M0.3,-19.4L-0.6,-20.0M0.3,-19.2L1.3,-20.0M2.0,-1.5L-0.2,-7.5M2.0,-1.5L7.0,2.5M2.0,-1.5L1.1,-8.3M2.2,-1.6L8.2,1.5M4.2,-3.1L3.6,-10.2M2.8,-2.0L10.8,-0.3M2.3,-1.7L4.8,-11.3M5.1,-3.7L12.2,-1.0M6.4,-4.7L7.6,-12.8M5.8,-4.2L14.5,-3.2M4.8,-3.5L8.5,-14.1M6.5,-4.7L16.1,-3.7M10.2,-7.4L12.6,-13.8M11.7,-8.5L17.0,-7.7M14.0,-10.2L13.8,-14.8M11.1,-8.1L18.3,-8.6M18.1,-13.1L18.2,-14.2M18.0,-13.1L19.1,-12.9M1.2,2.2L6.6,1.6M1.2,2.2L-2.3,6.4M1.8,3.3L6.4,3.6M1.8,3.3L-0.4,7.3M1.8,3.4L7.9,4.7M2.3,4.3L-0.3,9.2M2.6,4.8L7.8,6.7M2.3,4.3L1.4,10.2M4.1,7.5L8.3,8.3M3.7,6.7L2.4,11.5M5.8,10.7L6.9,11.1M5.8,10.6L5.5,11.8M-1.2,2.2L2.7,6.6M-1.2,2.2L-6.9,1.5M-1.2,2.2L0.4,7.3M-1.2,2.3L-6.2,3.8M-2.2,4.2L0.4,9.1M-1.8,3.4L-7.7,4.9M-3.3,6.3L-1.1,10.3M-2.5,4.7L-7.8,6.8M-3.4,6.6L-2.5,11.4M-4.1,7.8L-7.9,8.6M-5.8,11.1L-5.5,11.8M-5.8,11.1L-6.5,11.2M-2.5,0.2L-4.1,5.4M-2.5,0.2L-5.0,-4.5M-2.5,0.2L-5.8,5.3M-2.9,0.3L-6.7,-4.1M-4.7,0.5L-7.4,5.5M-2.5,0.2L-8.4,-4.0M-4.9,0.5L-9.2,5.0M-5.9,0.6L-10.0,-3.1M-7.4,0.7L-11.0,4.1M-8.9,0.9L-11.5,-1.9M-12.1,1.2L-12.9,1.9M-12.0,1.2L-13.0,0.6M-1.3,-2.1L-6.5,-1.3M-1.3,-2.1L1.8,-6.4M-1.4,-2.3L-7.3,-2.9M-1.3,-2.1L0.7,-7.8M-2.2,-3.6L-8.2,-4.3M-1.5,-2.4L-0.1,-9.2M-3.1,-5.1L-8.2,-6.3M-2.4,-3.9L-1.8,-10.2M-4.5,-7.3L-8.8,-7.9M-3.7,-6.1L-3.0,-11.4M-6.3,-10.3L-7.4,-10.7M-6.3,-10.3L-6.1,-11.5M1.2,-2.2L-2.0,-6.2M1.2,-2.2L6.2,-1.9M1.2,-2.2L-1.4,-7.8M1.3,-2.4L7.2,-3.3M2.1,-4.1L-0.5,-9.2M1.2,-2.2L7.8,-4.9M2.6,-4.9L1.6,-10.0M3.2,-6.1L7.3,-7.0M3.4,-6.5L2.4,-11.5M3.7,-7.0L8.0,-8.6M5.6,-10.8L5.3,-11.9M5.5,-10.5L6.7,-11.1M2.5,-0.1L4.3,-5.1M2.5,-0.1L4.8,4.7M3.1,-0.1L6.0,-4.9M2.5,-0.1L6.4,4.3M3.4,-0.2L7.7,-5.0M2.5,-0.1L8.1,4.3M6.7,-0.3L9.5,-3.9M7.2,-0.3L9.8,3.1M8.4,-0.4L11.2,-3.7M8.3,-0.4L11.4,2.7M12.2,-0.5L13.0,-1.2M12.3,-0.5L13.0,0.0" stroke="#161616" stroke-width="0.75"/>
<path d="M13.7,5.0L15.4,4.4M7.8,4.8L8.1,6.6M13.4,10.7L13.7,12.5M12.9,5.0L14.6,4.4M12.7,10.9L13.0,12.7M11.2,5.5L12.9,4.9M11.2,3.8L12.9,3.2M11.6,10.9L11.9,12.7M9.3,7.4L9.6,9.2M16.4,7.4L18.1,6.8M-1.5,17.4L-2.9,18.5M2.7,5.3L4.1,6.5M-0.7,6.0L-2.2,7.1M0.7,13.4L2.1,14.6M0.4,17.2L1.7,18.4M2.3,9.6L3.6,10.8M1.9,17.9L3.3,19.2M-0.9,16.7L-2.3,17.8M-0.8,11.1L-2.2,12.2M-3.1,6.2L-4.5,7.3M-19.2,11.7L-20.9,11.3M-9.9,10.7L-9.9,12.5M-14.2,12.6L-14.3,14.4M-15.2,13.7L-15.3,15.5M-12.4,6.4L-14.1,6.0M-4.8,3.2L-6.6,2.8M-0.9,4.8L-1.0,6.6M-6.6,0.7L-8.4,0.3M-17.6,11.9L-19.4,11.5M-7.4,4.0L-9.1,3.6M-13.8,-5.8L-15.5,-5.1M-10.2,-7.4L-10.7,-9.1M-3.0,0.9L-4.6,1.6M-10.3,-2.2L-11.9,-1.5M-7.7,-4.3L-8.1,-6.0M-4.5,-2.3L-4.9,-4.1M-5.8,-3.3L-6.2,-5.1M-6.6,-4.3L-7.1,-6.1M-1.9,-2.2L-2.3,-4.0M-2.7,-4.9L-3.1,-6.6M-0.0,-11.3L-1.4,-12.5M1.0,-8.4L2.4,-9.5M2.0,-12.7L3.4,-13.8M0.1,-13.7L-1.2,-14.8M2.7,-17.4L4.1,-18.5M-0.4,-15.3L-1.7,-16.4M0.6,-8.7L2.0,-9.8M0.5,-16.0L1.9,-17.2M-0.3,-10.1L-1.7,-11.3M-1.0,-16.0L-2.3,-17.2M3.4,-0.5L5.1,-0.1M16.0,-9.6L17.8,-9.2M11.6,-6.2L13.3,-5.8M6.6,-4.0L8.3,-3.5M1.1,-4.1L1.2,-5.9M8.3,-6.0L10.1,-5.6M5.7,-8.0L5.8,-9.8M12.1,-8.6L13.9,-8.1M4.4,-4.9L4.5,-6.7M6.5,-7.0L6.6,-8.8" stroke="#d0d0d0" stroke-width="0.6"/>
</g>
<g transform="translate(526,541)" fill="none" stroke-linecap="round">
<path d="M0.0,0.0L3.7,-2.5L6.8,-2.9L9.7,-2.4L12.5,-1.6L15.3,-0.8L17.8,0.8L20.3,3.1L22.5,6.0L19.1,7.5L15.9,8.2L12.8,8.4L10.0,7.6L7.2,6.9L4.4,5.9L1.9,4.0ZM0.0,0.0L3.6,2.4L5.1,5.0L5.6,7.7L5.9,10.4L6.2,13.2L5.5,16.0L4.3,18.9L2.3,21.9L-0.3,19.4L-2.1,16.8L-3.3,14.2L-3.6,11.5L-3.9,8.7L-4.0,6.0L-3.1,3.1ZM0.0,0.0L-0.2,4.1L-1.6,6.5L-3.5,8.0L-5.5,9.3L-7.6,10.6L-10.1,11.1L-13.0,11.2L-16.3,10.6L-15.5,7.3L-14.3,4.7L-12.8,2.6L-10.7,1.3L-8.7,-0.1L-6.6,-1.2L-3.9,-1.5ZM0.0,0.0L-3.9,2.1L-7.0,2.1L-9.7,1.3L-12.3,0.2L-14.9,-0.9L-17.1,-2.8L-19.2,-5.3L-21.0,-8.5L-17.5,-9.5L-14.3,-9.9L-11.3,-9.7L-8.7,-8.7L-6.1,-7.6L-3.5,-6.4L-1.4,-4.2ZM0.0,0.0L-3.6,-2.5L-5.1,-5.2L-5.5,-8.0L-5.8,-10.8L-6.0,-13.6L-5.3,-16.5L-4.0,-19.4L-2.0,-22.4L0.6,-19.8L2.3,-17.1L3.5,-14.4L3.8,-11.6L4.0,-8.8L4.1,-6.0L3.1,-3.1ZM0.0,0.0L0.4,-4.3L2.1,-6.8L4.2,-8.5L6.5,-9.9L8.8,-11.4L11.6,-12.1L14.7,-12.3L18.2,-11.8L17.2,-8.4L15.7,-5.7L14.0,-3.4L11.7,-1.9L9.4,-0.4L7.1,0.9L4.1,1.3ZM-7,0A7,7 0 0 1 7,0A7,7 0 0 1 -7,0Z" fill="#787878" stroke="none"/>
<circle r="8.5" fill="#4c4c4c" stroke="none"/>
<path d="M2.4,0.6L9.1,-4.9M2.4,0.6L5.4,8.8M7.9,2.1L13.6,-3.1M5.8,1.6L10.2,9.5M13.2,3.5L18.0,-1.0M13.4,3.6L15.1,9.8M18.5,5.0L21.8,3.5M18.8,5.0L20.6,7.9M0.4,4.1L7.7,6.9M0.3,2.5L-6.1,8.3M0.9,8.5L6.5,11.9M0.9,9.0L-3.9,13.0M1.3,12.7L7.4,16.7M1.1,10.5L-3.8,17.8M2.3,21.6L2.8,22.0M2.3,21.4L1.8,22.1M-3.1,2.0L-3.1,9.7M-2.1,1.4L-10.1,-1.2M-7.3,4.8L-7.5,11.9M-6.3,4.1L-14.0,2.0M-11.2,7.3L-13.2,12.4M-12.5,8.1L-16.7,7.1M-2.3,-0.9L-9.0,2.8M-2.3,-0.9L-4.5,-8.3M-6.1,-2.5L-13.5,1.6M-6.0,-2.4L-8.6,-10.5M-10.4,-4.2L-17.6,-0.9M-9.0,-3.6L-13.2,-11.6M-18.2,-7.4L-20.5,-6.0M-18.2,-7.3L-18.9,-10.0M-0.2,-2.5L-6.5,-7.2M-0.2,-2.5L5.2,-8.3M-0.6,-6.8L-6.3,-12.3M-0.7,-8.3L4.1,-13.2M-0.9,-9.8L-6.7,-17.2M-1.1,-12.2L3.6,-18.1M-1.9,-21.9L-2.7,-22.6M-1.9,-21.8L-1.3,-22.7M3.8,-2.4L2.8,-9.5M2.7,-1.7L9.8,1.3M3.9,-2.6L7.4,-11.2M4.9,-3.2L13.2,-2.2M12.0,-7.8L11.9,-13.1M10.2,-6.6L16.8,-5.6M18.1,-11.7L18.1,-12.4M17.8,-11.6L18.7,-11.5" stroke="#5a5a5a" stroke-width="0.8"/>
<path d="M2.4,0.6L5.8,-4.8M2.4,0.6L2.6,7.0M3.0,0.8L7.2,-3.9M2.4,0.6L4.3,6.9M2.4,0.6L10.5,-4.0M2.4,0.6L7.1,8.8M4.4,1.2L11.9,-3.1M2.6,0.7L8.8,8.7M8.5,2.3L15.0,-2.4M5.0,1.3L11.8,9.6M12.2,3.3L16.2,-0.5M9.9,2.7L13.8,8.6M12.8,3.4L19.2,0.8M13.3,3.6L17.0,8.9M16.9,4.5L20.7,1.2M14.1,3.8L18.5,9.3M22.2,5.9L22.9,5.3M22.2,6.0L22.5,6.9M0.3,2.5L6.6,3.7M0.3,2.5L-5.7,5.0M0.3,2.5L6.9,5.3M0.3,2.5L-5.7,6.6M0.4,3.8L5.9,8.7M0.4,4.2L-4.0,9.7M0.3,2.8L8.0,10.1M0.3,2.7L-5.7,11.5M1.0,9.2L7.6,13.4M1.1,10.2L-4.7,14.7M1.0,9.1L6.9,15.1M1.0,9.6L-3.7,16.2M1.4,13.5L5.5,18.5M1.8,16.7L-1.6,19.2M1.9,17.9L4.7,20.2M1.9,17.9L-0.4,20.7M-2.1,1.4L-0.7,7.2M-2.1,1.4L-6.9,-2.3M-2.6,1.7L-1.6,8.8M-2.1,1.4L-8.7,-2.1M-3.2,2.1L-4.4,10.7M-2.1,1.4L-11.6,-0.3M-5.1,3.3L-5.8,11.6M-3.7,2.4L-12.9,0.6M-9.1,5.9L-9.2,12.5M-8.5,5.5L-15.1,3.3M-11.5,7.5L-11.5,12.0M-9.2,6.0L-15.6,5.6M-15.7,10.2L-16.0,11.2M-15.9,10.3L-16.7,10.1M-2.3,-0.9L-6.0,3.6M-2.3,-0.9L-1.8,-6.8M-2.3,-0.9L-7.5,3.3M-2.5,-1.0L-3.1,-7.6M-3.5,-1.4L-10.4,2.0M-3.5,-1.4L-6.1,-8.7M-6.1,-2.5L-11.9,1.7M-2.4,-1.0L-7.4,-9.5M-5.0,-2.0L-15.2,1.4M-4.2,-1.7L-9.9,-11.6M-6.9,-2.8L-15.9,-0.8M-8.6,-3.5L-12.0,-10.5M-10.9,-4.4L-18.5,-2.8M-14.0,-5.7L-15.2,-10.8M-14.3,-5.8L-19.6,-4.3M-13.9,-5.6L-17.0,-10.5M-20.3,-8.2L-21.5,-7.8M-20.3,-8.2L-20.9,-9.3M-0.2,-2.5L-5.6,-4.0M-0.2,-2.5L4.8,-4.9M-0.2,-2.5L-5.3,-5.7M-0.3,-3.7L4.2,-6.5M-0.2,-2.5L-6.4,-8.9M-0.2,-2.5L4.8,-9.9M-0.5,-6.2L-8.4,-10.4M-0.5,-6.0L6.5,-11.7M-0.8,-8.7L-7.2,-13.8M-1.0,-10.9L4.7,-14.9M-0.9,-10.6L-6.3,-15.6M-1.2,-13.2L3.5,-16.4M-1.2,-13.8L-5.2,-19.0M-1.3,-15.2L1.9,-19.6M-1.7,-19.0L-4.6,-20.7M-1.6,-18.4L0.9,-21.2M2.1,-1.4L0.4,-7.3M2.1,-1.4L6.8,2.6M2.1,-1.4L2.2,-7.5M2.1,-1.4L7.7,1.0M2.1,-1.4L4.1,-10.4M2.6,-1.7L11.2,0.4M5.6,-3.6L5.9,-10.6M4.3,-2.8L12.1,-1.1M6.6,-4.3L8.4,-12.6M8.7,-5.7L14.9,-2.6M7.5,-4.9L10.0,-13.1M8.0,-5.2L16.0,-3.8M13.2,-8.6L13.7,-13.3M13.6,-8.9L17.7,-7.1M14.7,-9.6L15.8,-13.0M14.9,-9.6L18.3,-9.2M1.6,1.9L6.4,0.5M1.6,1.9L-0.5,6.4M1.7,2.0L7.1,2.2M1.9,2.3L1.0,7.3M2.9,3.4L8.5,3.2M2.1,2.5L1.8,8.9M4.1,4.8L9.2,4.8M3.1,3.7L3.3,9.9M5.3,6.2L9.4,6.8M5.8,6.8L5.3,10.4M7.9,9.3L9.0,9.4M8.1,9.4L7.9,10.3M-1.1,2.3L2.7,6.4M-1.1,2.3L-6.7,1.9M-1.1,2.3L1.7,7.7M-1.1,2.3L-7.1,3.5M-1.1,2.3L1.6,9.5M-1.5,3.2L-8.4,4.8M-3.0,6.3L-0.7,10.3M-2.9,6.1L-7.6,7.0M-3.8,7.9L-2.4,11.4M-3.3,6.9L-7.4,9.0M-5.2,11.0L-4.9,12.0M-5.1,10.8L-6.2,11.4M-2.5,0.2L-4.1,5.4M-2.5,0.2L-5.0,-4.5M-2.5,0.2L-5.8,4.4M-2.5,0.2L-6.6,-3.2M-2.5,0.2L-7.4,5.5M-3.8,0.4L-8.4,-4.0M-6.0,0.6L-9.2,4.8M-6.4,0.6L-9.9,-3.0M-8.5,0.8L-11.0,3.7M-8.4,0.8L-11.5,-1.5M-12.2,1.2L-12.9,1.9M-12.0,1.2L-13.0,0.6M-1.5,-2.0L-6.6,-0.8M-1.5,-2.0L1.2,-6.5M-2.0,-2.6L-6.8,-2.7M-1.5,-2.0L-0.6,-7.3M-2.3,-3.1L-8.6,-3.5M-2.8,-3.8L-0.8,-9.3M-3.9,-5.2L-8.5,-5.7M-4.3,-5.8L-2.9,-9.8M-5.0,-6.7L-9.3,-7.2M-5.0,-6.7L-4.1,-11.0M-7.3,-9.8L-8.3,-10.0M-7.2,-9.7L-7.2,-10.9M1.1,-2.2L-2.5,-6.3M1.1,-2.2L6.5,-1.9M1.1,-2.2L-1.7,-7.8M1.1,-2.2L7.1,-3.5M1.9,-3.9L-0.6,-9.1M1.3,-2.7L7.5,-5.1M3.0,-6.1L1.5,-10.0M2.9,-5.8L7.0,-7.3M3.7,-7.6L2.5,-11.4M3.9,-7.9L7.5,-8.9M5.4,-11.0L5.0,-12.0M5.4,-11.0L6.4,-11.4M2.5,-0.4L3.7,-6.0M2.5,-0.4L5.3,4.5M2.9,-0.5L5.4,-5.8M2.5,-0.4L6.9,3.8M3.3,-0.5L7.0,-6.3M3.5,-0.6L8.6,3.8M5.7,-0.9L9.0,-5.0M6.7,-1.1L10.0,1.9M7.6,-1.2L10.7,-4.8M7.6,-1.2L11.6,1.2M11.9,-1.9L12.7,-2.7M12.1,-1.9L12.9,-1.3" stroke="#161616" stroke-width="0.75"/>
<path d="M5.0,-1.8L6.5,-2.8M3.9,-1.8L5.4,-2.9M15.6,1.4L17.0,0.3M9.7,4.6L10.5,6.2M11.4,0.6L12.8,-0.4M17.2,7.3L17.9,8.9M3.4,-0.9L4.8,-1.9M10.7,5.0L11.5,6.6M8.7,3.9L9.5,5.5M6.2,3.2L6.9,4.8M2.0,7.6L3.5,8.6M-0.8,15.6L-2.0,16.9M1.3,16.6L0.0,17.9M-0.5,9.5L-1.7,10.8M-0.9,13.2L-2.2,14.5M4.3,15.8L5.8,16.8M-0.3,8.7L-1.5,10.0M2.8,5.8L4.3,6.8M-0.4,2.3L-1.6,3.6M-1.3,18.9L-2.6,20.2M-4.1,1.1L-5.8,0.6M-7.5,3.7L-9.2,3.2M-8.3,1.8L-10.0,1.3M-12.4,11.8L-12.6,13.6M-9.2,9.2L-9.4,10.9M-1.4,2.7L-1.6,4.5M-12.8,4.2L-14.5,3.6M-2.5,3.1L-2.8,4.9M-2.2,1.1L-3.9,0.5M-7.3,5.8L-7.5,7.6M-6.3,-4.8L-6.9,-6.5M-16.7,-5.1L-18.2,-4.2M-8.2,-4.2L-8.7,-5.9M-13.6,-9.1L-14.1,-10.8M-8.0,-4.7L-8.5,-6.4M-10.3,-6.4L-10.9,-8.2M-5.2,0.4L-6.8,1.2M-2.5,-4.3L-3.1,-6.0M-6.2,-2.4L-7.7,-1.6M-4.4,-0.4L-5.9,0.4M0.3,-2.4L1.5,-3.7M0.5,-4.7L1.7,-5.9M-2.5,-6.8L-4.0,-7.8M-1.9,-10.7L-3.3,-11.7M-3.7,-6.4L-5.2,-7.5M2.5,-3.4L3.7,-4.7M-3.6,-7.3L-5.1,-8.4M-0.6,-5.3L-2.1,-6.3M-3.8,-19.9L-5.3,-20.9M-1.7,-17.7L-3.1,-18.7M8.9,-3.2L10.6,-2.7M5.8,-7.4L6.0,-9.2M10.3,-5.4L12.0,-4.9M9.9,-8.3L10.1,-10.1M16.8,-7.8L18.5,-7.3M16.0,-10.8L16.2,-12.6M14.7,-7.7L16.4,-7.1M2.4,-5.5L2.7,-7.3M2.7,-4.9L2.9,-6.7M2.2,-2.6L2.4,-4.4" stroke="#d0d0d0" stroke-width="0.6"/>
</g>
<g transform="translate(774.3,593.4)">
<circle r="23.2" fill="#fff" stroke="#444" stroke-width="0.9"/>
<path d="M22.41,6.00L20.19,5.41M20.09,11.60L18.10,10.45M16.40,16.40L14.78,14.78M11.60,20.09L10.45,18.10M6.00,22.41L5.41,20.19M-6.00,22.41L-5.41,20.19M-11.60,20.09L-10.45,18.10M-16.40,16.40L-14.78,14.78M-20.09,11.60L-18.10,10.45M-22.41,6.00L-20.19,5.41M-22.41,-6.00L-20.19,-5.41M-20.09,-11.60L-18.10,-10.45M-16.40,-16.40L-14.78,-14.78M-11.60,-20.09L-10.45,-18.10M-6.00,-22.41L-5.41,-20.19M6.00,-22.41L5.41,-20.19M11.60,-20.09L10.45,-18.10M16.40,-16.40L14.78,-14.78M20.09,-11.60L18.10,-10.45M22.41,-6.00L20.19,-5.41" stroke="#555" stroke-width="0.7" fill="none"/>
<path d="M0,0L16.26,16.26M0,0L-16.26,16.26M0,0L-16.26,-16.26M0,0L16.26,-16.26" stroke="#444" stroke-width="0.7" fill="none"/>
<circle r="9.8" fill="#fff" stroke="#333" stroke-width="0.8"/>
<circle r="8" fill="none" stroke="#333" stroke-width="0.7"/>
<path d="M0,-2 L8.6,-8.6 L2,0 L8.6,8.6 L0,2 L-8.6,8.6 L-2,0 L-8.6,-8.6 Z" fill="#fff" stroke="#333" stroke-width="0.7" stroke-linejoin="miter"/>
<path transform="rotate(45)" d="M0,-9.5 L1.1,-12 L0,-13.8 L-1.1,-12 Z" fill="#333"/>
<path transform="rotate(135)" d="M0,-9.5 L1.1,-12 L0,-13.8 L-1.1,-12 Z" fill="#333"/>
<path transform="rotate(225)" d="M0,-9.5 L1.1,-12 L0,-13.8 L-1.1,-12 Z" fill="#333"/>
<path transform="rotate(315)" d="M0,-9.5 L1.1,-12 L0,-13.8 L-1.1,-12 Z" fill="#333"/>
<g transform="rotate(0)"><path d="M-1.1,-7.8 H1.1 V-5 H2.4 L0,-2.7 L-2.4,-5 H-1.1 Z" fill="#111"/><path d="M0,-9.8 L0.9,-11.6 L0,-13.8 L-0.9,-11.6 Z" fill="#222"/></g>
<g transform="rotate(90)"><path d="M-1.1,-7.8 H1.1 V-5 H2.4 L0,-2.7 L-2.4,-5 H-1.1 Z" fill="#111"/><path d="M0,-9.8 L0.9,-11.6 L0,-13.8 L-0.9,-11.6 Z" fill="#222"/></g>
<g transform="rotate(180)"><path d="M-1.1,-7.8 H1.1 V-5 H2.4 L0,-2.7 L-2.4,-5 H-1.1 Z" fill="#111"/><path d="M0,-9.8 L0.9,-11.6 L0,-13.8 L-0.9,-11.6 Z" fill="#222"/></g>
<g transform="rotate(270)"><path d="M-1.1,-7.8 H1.1 V-5 H2.4 L0,-2.7 L-2.4,-5 H-1.1 Z" fill="#111"/><path d="M0,-9.8 L0.9,-11.6 L0,-13.8 L-0.9,-11.6 Z" fill="#222"/></g>
<text x="0" y="-16.1" font-size="7.6" font-weight="bold" text-anchor="middle" style="stroke:none" fill="#111">N</text>
<text x="0" y="21.3" font-size="7.6" font-weight="bold" text-anchor="middle" style="stroke:none" fill="#111">S</text>
<text transform="translate(16.2,0) rotate(90)" x="0" y="0" font-size="7.6" font-weight="bold" text-anchor="middle" style="stroke:none" fill="#111">E</text>
<text transform="translate(-16.4,0) rotate(-90)" x="0" y="0" font-size="7.6" font-weight="bold" text-anchor="middle" style="stroke:none" fill="#111">W</text>
</g>
<line x1="39.50" y1="11.10" x2="736.50" y2="11.10" stroke="#6e6e6e" stroke-width="0.9" />
<line x1="41.80" y1="9.00" x2="41.80" y2="18.20" stroke="#6e6e6e" stroke-width="0.9" />
<line x1="144.20" y1="9.00" x2="144.20" y2="18.20" stroke="#6e6e6e" stroke-width="0.9" />
<line x1="255.00" y1="9.00" x2="255.00" y2="18.20" stroke="#6e6e6e" stroke-width="0.9" />
<line x1="369.50" y1="9.00" x2="369.50" y2="18.20" stroke="#6e6e6e" stroke-width="0.9" />
<line x1="519.30" y1="9.00" x2="519.30" y2="18.20" stroke="#6e6e6e" stroke-width="0.9" />
<line x1="654.50" y1="9.00" x2="654.50" y2="18.20" stroke="#6e6e6e" stroke-width="0.9" />
<line x1="736.30" y1="9.00" x2="736.30" y2="18.20" stroke="#6e6e6e" stroke-width="0.9" />
<line x1="34.00" y1="593.10" x2="744.50" y2="593.10" stroke="#6e6e6e" stroke-width="0.9" />
<line x1="36.60" y1="585.80" x2="36.60" y2="595.00" stroke="#6e6e6e" stroke-width="0.9" />
<line x1="252.50" y1="585.80" x2="252.50" y2="595.00" stroke="#6e6e6e" stroke-width="0.9" />
<line x1="497.50" y1="585.80" x2="497.50" y2="595.00" stroke="#6e6e6e" stroke-width="0.9" />
<line x1="742.50" y1="585.80" x2="742.50" y2="595.00" stroke="#6e6e6e" stroke-width="0.9" />
<line x1="11.20" y1="45.50" x2="11.20" y2="562.50" stroke="#6e6e6e" stroke-width="0.9" />
<line x1="9.00" y1="48.00" x2="18.20" y2="48.00" stroke="#6e6e6e" stroke-width="0.9" />
<line x1="9.00" y1="207.00" x2="18.20" y2="207.00" stroke="#6e6e6e" stroke-width="0.9" />
<line x1="9.00" y1="420.00" x2="18.20" y2="420.00" stroke="#6e6e6e" stroke-width="0.9" />
<line x1="9.00" y1="560.60" x2="18.20" y2="560.60" stroke="#6e6e6e" stroke-width="0.9" />
<line x1="773.80" y1="45.50" x2="773.80" y2="562.50" stroke="#6e6e6e" stroke-width="0.9" />
<line x1="767.00" y1="48.00" x2="776.00" y2="48.00" stroke="#6e6e6e" stroke-width="0.9" />
<line x1="767.00" y1="150.40" x2="776.00" y2="150.40" stroke="#6e6e6e" stroke-width="0.9" />
<line x1="767.00" y1="288.40" x2="776.00" y2="288.40" stroke="#6e6e6e" stroke-width="0.9" />
<line x1="767.00" y1="420.00" x2="776.00" y2="420.00" stroke="#6e6e6e" stroke-width="0.9" />
<line x1="767.00" y1="560.60" x2="776.00" y2="560.60" stroke="#6e6e6e" stroke-width="0.9" />
<text x="93.00" y="8.50" font-size="11.2" text-anchor="middle" >7'2&quot;</text>
<text x="199.50" y="8.50" font-size="11.2" text-anchor="middle" >7'8&quot;</text>
<text x="313.00" y="8.50" font-size="11.2" text-anchor="middle" >8'0&quot;</text>
<text x="445.00" y="8.50" font-size="11.2" text-anchor="middle" >10'5&quot;</text>
<text x="586.50" y="8.50" font-size="11.2" text-anchor="middle" >9'5&quot;</text>
<text x="695.50" y="8.50" font-size="11.2" text-anchor="middle" >5'8&quot;</text>
<text x="144.80" y="589.80" font-size="11.2" text-anchor="middle" >15'1&quot;</text>
<text x="375.00" y="589.80" font-size="11.2" text-anchor="middle" >17'1&quot;</text>
<text x="620.50" y="589.80" font-size="11.2" text-anchor="middle" >17'1&quot;</text>
<text transform="translate(8.80,127.00) rotate(-90)" font-size="11.2" text-anchor="middle">11'1&quot;</text>
<text transform="translate(8.80,313.00) rotate(-90)" font-size="11.2" text-anchor="middle">14'10&quot;</text>
<text transform="translate(8.80,490.00) rotate(-90)" font-size="11.2" text-anchor="middle">9'9&quot;</text>
<text transform="translate(771.30,98.80) rotate(-90)" font-size="11.2" text-anchor="middle">7'1&quot;</text>
<text transform="translate(771.30,219.00) rotate(-90)" font-size="11.2" text-anchor="middle">9'8&quot;</text>
<text transform="translate(771.30,353.80) rotate(-90)" font-size="11.2" text-anchor="middle">9'2&quot;</text>
<text transform="translate(771.30,490.00) rotate(-90)" font-size="11.2" text-anchor="middle">9'9&quot;</text>
<text x="110.00" y="104.50" font-size="11.5" text-anchor="middle" >Walk-in</text>
<text x="110.00" y="117.50" font-size="11.5" text-anchor="middle" >Closet</text>
<text x="110.00" y="130.50" font-size="11.5" text-anchor="middle" >69 sq ft</text>
<text x="220.50" y="115.00" font-size="11.5" text-anchor="middle" >Bedrm 3</text>
<text x="220.50" y="128.00" font-size="11.5" text-anchor="middle" >78 sq ft</text>
<text x="287.70" y="115.00" font-size="11.5" text-anchor="middle" >Bedrm 4</text>
<text x="287.70" y="128.00" font-size="11.5" text-anchor="middle" >78 sq ft</text>
<text x="447.00" y="85.00" font-size="11.5" text-anchor="middle" >Front</text>
<text x="447.00" y="98.00" font-size="11.5" text-anchor="middle" >Porch</text>
<text x="591.10" y="97.70" font-size="11.5" text-anchor="middle" >Storage</text>
<text x="591.10" y="110.70" font-size="11.5" text-anchor="middle" >57 sq ft</text>
<text x="694.40" y="104.00" font-size="11.5" text-anchor="middle" >Utilities</text>
<text x="428.20" y="198.00" font-size="11.5" text-anchor="middle" >Entry</text>
<text x="428.20" y="211.00" font-size="11.5" text-anchor="middle" >72 sq ft</text>
<text x="533.80" y="198.80" font-size="11.5" text-anchor="middle" >Bathroom 1</text>
<text x="533.80" y="211.80" font-size="11.5" text-anchor="middle" >48 sq ft</text>
<text x="664.50" y="217.00" font-size="11.5" text-anchor="middle" >Kitchen</text>
<text x="664.50" y="230.00" font-size="11.5" text-anchor="middle" >85 sq ft</text>
<text x="304.30" y="238.80" font-size="11.5" text-anchor="middle" >Hallway</text>
<text x="304.30" y="251.80" font-size="11.5" text-anchor="middle" >61 sq ft</text>
<text x="115.50" y="261.30" font-size="11.5" text-anchor="middle" >Bedroom 1</text>
<text x="115.50" y="274.30" font-size="11.5" text-anchor="middle" >137 sq ft</text>
<text x="253.00" y="340.00" font-size="11.5" text-anchor="middle" >Bathroom 2</text>
<text x="253.00" y="353.00" font-size="11.5" text-anchor="middle" >83 sq ft</text>
<text x="550.80" y="342.50" font-size="11.5" text-anchor="middle" >Dining Room</text>
<text x="550.80" y="355.50" font-size="11.5" text-anchor="middle" >257 sq ft</text>
<text x="426.30" y="441.30" font-size="11.5" text-anchor="middle" >Sitting Room</text>
<text x="426.30" y="454.30" font-size="11.5" text-anchor="middle" >145 sq ft</text>
<text x="183.00" y="506.50" font-size="11.5" text-anchor="middle" >Balcony</text>
</svg>
</body>
</html>
